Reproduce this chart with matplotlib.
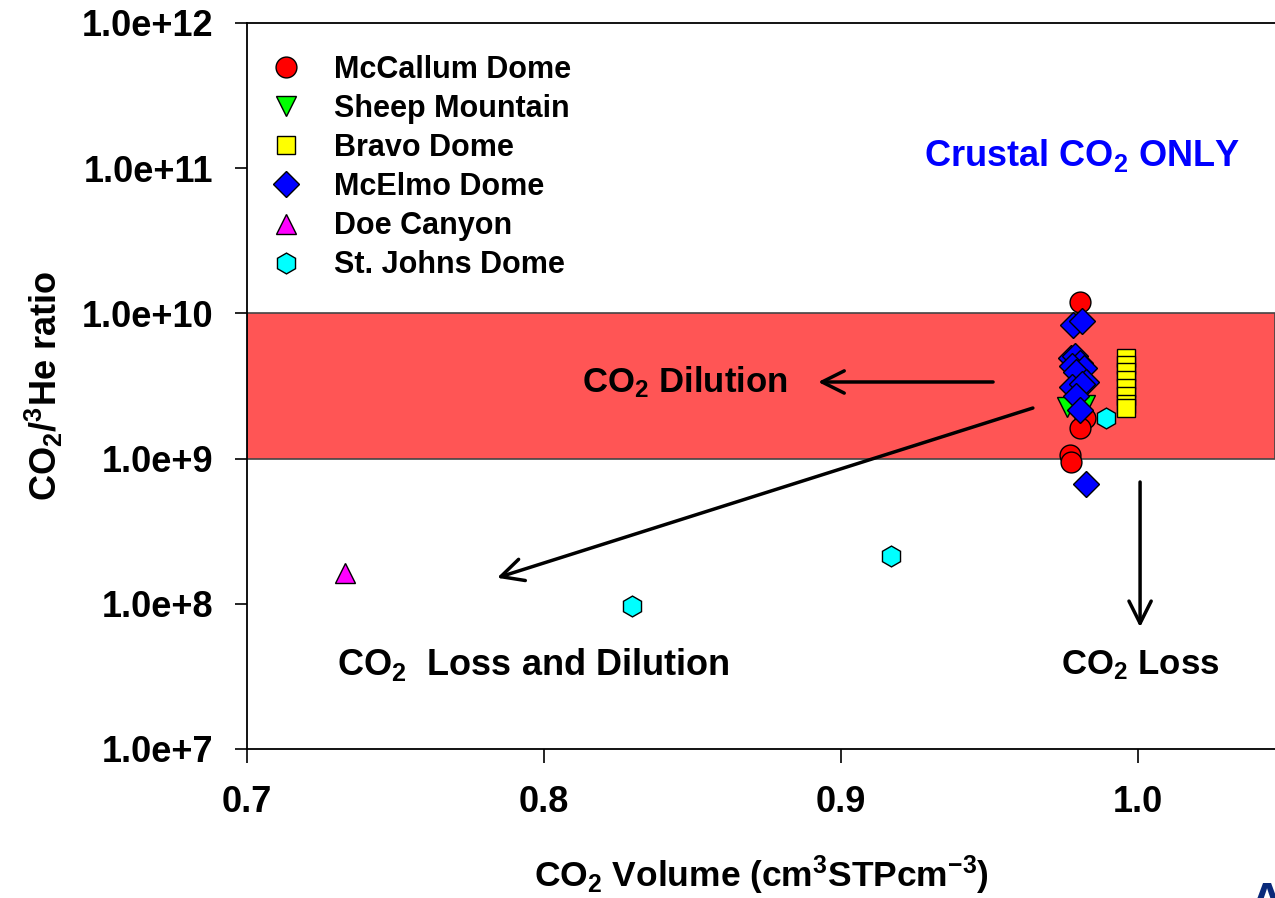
import math
import matplotlib.pyplot as plt
import matplotlib.ticker as mticker

plt.rcParams['font.family'] = ['Liberation Sans', 'DejaVu Sans']
plt.rcParams['font.weight'] = 'bold'
plt.rcParams['axes.labelweight'] = 'bold'
plt.rcParams['mathtext.default'] = 'regular'

# Daten
mccallum_x = [0.9805, 0.9822, 0.9805, 0.9771, 0.9774]
mccallum_y = [1.2e10, 1.9e9, 1.63e9, 1.06e9, 0.95e9]

sheep_x = [0.9761, 0.9788, 0.9822, 0.9798]
sheep_y = [2.26e9, 2.54e9, 2.34e9, 2.83e9]

bravo_x = [0.996] * 8
bravo_y = [4.93e9, 4.42e9, 3.95e9, 3.48e9, 3.06e9, 2.70e9, 2.38e9, 2.23e9]

mcelmo_x = [0.9781, 0.9811, 0.9774, 0.9788, 0.9805, 0.9778, 0.9818,
            0.9791, 0.9825, 0.9778, 0.9811, 0.9791, 0.9805, 0.9825]
mcelmo_y = [8.3e9, 8.9e9, 4.93e9, 5.1e9, 4.55e9, 4.34e9, 4.2e9,
            3.95e9, 3.37e9, 3.11e9, 3.26e9, 2.70e9, 2.16e9, 6.7e8]

doe_x = [0.733]
doe_y = [1.63e8]

stjohns_x = [0.8296, 0.9168, 0.9892]
stjohns_y = [9.7e7, 2.13e8, 1.9e9]

fig = plt.figure(figsize=(12.75, 8.98), dpi=100)
ax = fig.add_axes([247/1275, 1 - 749/898, 1 - 247/1275, (749 - 23)/898])

# rotes Band
ax.axhspan(1e9, 1e10, facecolor='#FF5555', edgecolor='#444444', lw=1.2, zorder=0)

ms = 15
ax.plot(mccallum_x, mccallum_y, 'o', ms=ms, mfc='#FF0000', mec='black', mew=1, ls='none', label='McCallum Dome', zorder=3)
ax.plot(sheep_x, sheep_y, 'v', ms=ms, mfc='#00FF00', mec='black', mew=1, ls='none', label='Sheep Mountain', zorder=3)
ax.plot(bravo_x, bravo_y, 's', ms=13, mfc='#FFFF00', mec='black', mew=1, ls='none', label='Bravo Dome', zorder=3)
ax.plot(mcelmo_x, mcelmo_y, 'D', ms=13, mfc='#0000FF', mec='black', mew=1, ls='none', label='McElmo Dome', zorder=4)
ax.plot(doe_x, doe_y, '^', ms=ms, mfc='#FF00FF', mec='black', mew=1, ls='none', label='Doe Canyon', zorder=3)
ax.plot(stjohns_x, stjohns_y, 'h', ms=ms, mfc='#00FFFF', mec='black', mew=1, ls='none', label='St. Johns Dome', zorder=3)

ax.set_yscale('log')
ax.set_ylim(1e7, 1e12)
ax.set_xlim(0.7, 0.7 + (1275 - 247) / 2970)
ax.set_xticks([0.7, 0.8, 0.9, 1.0])
ax.xaxis.set_major_formatter(mticker.FormatStrFormatter('%.1f'))
ax.set_yticks([1e7, 1e8, 1e9, 1e10, 1e11, 1e12])
ax.yaxis.set_major_formatter(mticker.FuncFormatter(lambda v, p: '1.0e+%d' % round(math.log10(v))))
ax.yaxis.set_minor_locator(mticker.NullLocator())
ax.tick_params(axis='both', direction='out', labelsize=26, width=1.2)
ax.tick_params(axis='x', length=10, pad=16)
ax.tick_params(axis='y', length=9, pad=15)
ax.spines['right'].set_visible(False)
for s in ['top', 'bottom', 'left']:
    ax.spines[s].set_linewidth(1.3)

ax.set_xlabel('CO$_2$ Volume (cm$^3$STPcm$^{-3}$)', fontsize=25.5, labelpad=24)
ax.set_ylabel('CO$_2$/$^3$He ratio', fontsize=26, labelpad=12)

# Pfeile
kw = dict(arrowstyle='->, head_length=1.6, head_width=0.8', lw=2.5, color='black', shrinkA=0, shrinkB=0)
ax.annotate('', xy=(0.8923, 3.37e9), xytext=(0.9512, 3.37e9), arrowprops=kw)
ax.annotate('', xy=(0.7842, 1.51e8), xytext=(0.9646, 2.23e9), arrowprops=kw)
ax.annotate('', xy=(1.0007, 6.9e7), xytext=(1.0007, 6.9e8), arrowprops=kw)

ax.text(0.8475, 3.37e9, 'CO$_2$ Dilution', fontsize=25, ha='center', va='center')
ax.text(0.7963, 3.8e7, 'CO$_2$  Loss and Dilution', fontsize=26, ha='center', va='center')
ax.text(1.0007, 3.8e7, 'CO$_2$ Loss', fontsize=25, ha='center', va='center')
ax.text(0.9811, 1.23e11, 'Crustal CO$_2$ ONLY', fontsize=26, color='#0000FF', ha='center', va='center')

ax.legend(loc='upper left', bbox_to_anchor=(-0.005, 0.986), frameon=False, fontsize=22,
          handletextpad=0.8, labelspacing=0.3, borderaxespad=0.3, handlelength=1.5)

fig.text(0.98, -0.03, 'A', fontsize=34, color='#0A2A7A', ha='left', va='bottom')

fig.savefig('out.png', dpi=100)
